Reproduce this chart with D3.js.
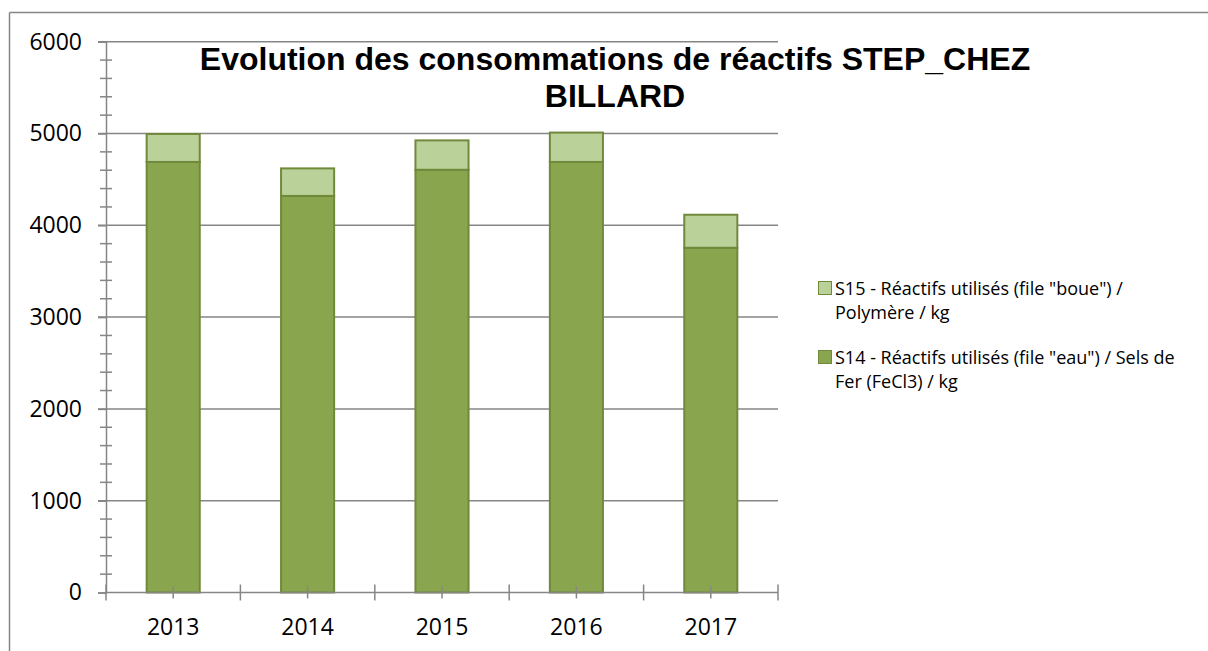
<!DOCTYPE html>
<html>
<head>
<meta charset="utf-8">
<script src="https://cdn.jsdelivr.net/npm/d3@7"></script>
<style>
  body { margin: 0; background: #fff; }
  text { fill: #000; }
</style>
</head>
<body>
<div id="container"></div>
<script>
const years = ["2013", "2014", "2015", "2016", "2017"];
const s14Values = [4690, 4320, 4605, 4690, 3755];
const s15Values = [305, 300, 320, 320, 360];
const yTicks = [0, 1000, 2000, 3000, 4000, 5000, 6000];
const titleLines = ["Evolution des consommations de réactifs STEP_CHEZ", "BILLARD"];
const legendLabels = [
  ["S15 - Réactifs utilisés (file \"boue\") /", "Polymère / kg"],
  ["S14 - Réactifs utilisés (file \"eau\") / Sels de", "Fer (FeCl3) / kg"]
];

const width = 1208,
  height = 651;
const plot = { left: 106, right: 778, top: 41.7, bottom: 592.5 };
const gray = "#868686";
const colors = { s14: "#89a54e", s15: "#bbd19a", stroke: "#71893a" };
const labelFont = "'Open Sans', sans-serif";

const svg = d3
  .select("#container")
  .append("svg")
  .attr("width", width)
  .attr("height", height);

// outer frame (top + left visible)
svg.append("line")
  .attr("x1", 9.5).attr("x2", width).attr("y1", 12.5).attr("y2", 12.5)
  .attr("stroke", gray).attr("stroke-width", 1.5);
svg.append("line")
  .attr("x1", 9.5).attr("x2", 9.5).attr("y1", 12.5).attr("y2", height)
  .attr("stroke", gray).attr("stroke-width", 1.5);

const x = d3
  .scaleBand()
  .domain(years)
  .range([plot.left, plot.right])
  .paddingInner(0.605)
  .paddingOuter(0.3025);

const y = d3
  .scaleLinear()
  .domain([0, 6000])
  .range([plot.bottom, plot.top]);

// gridlines
svg.append("g")
  .selectAll("line")
  .data(yTicks.filter((d) => d > 0))
  .enter()
  .append("line")
  .attr("x1", plot.left - 8)
  .attr("x2", plot.right)
  .attr("y1", (d) => y(d))
  .attr("y2", (d) => y(d))
  .attr("stroke", gray)
  .attr("stroke-width", 1.5);

// minor ticks on y axis
const minor = d3.range(200, 6000, 200).filter((d) => d % 1000 !== 0);
svg.append("g")
  .selectAll("line")
  .data(minor)
  .enter()
  .append("line")
  .attr("x1", plot.left - 6)
  .attr("x2", plot.left + 6)
  .attr("y1", (d) => y(d))
  .attr("y2", (d) => y(d))
  .attr("stroke", gray)
  .attr("stroke-width", 1.5);

// stacked bars
const stacked = years.map((yr, i) => ({ year: yr, s14: s14Values[i], s15: s15Values[i] }));
const series = d3.stack().keys(["s14", "s15"])(stacked);

svg.append("g")
  .selectAll("g")
  .data(series)
  .enter()
  .append("g")
  .attr("fill", (d) => colors[d.key])
  .attr("stroke", colors.stroke)
  .attr("stroke-width", 2)
  .selectAll("rect")
  .data((d) => d)
  .enter()
  .append("rect")
  .attr("x", (d) => x(d.data.year))
  .attr("width", x.bandwidth())
  .attr("y", (d) => y(d[1]))
  .attr("height", (d) => y(d[0]) - y(d[1]));

// y axis
const yAxis = svg.append("g")
  .attr("transform", `translate(${plot.left},0)`)
  .call(d3.axisLeft(y).tickValues(yTicks).tickFormat(d3.format("d")).tickSize(8).tickPadding(16));
yAxis.select(".domain").attr("stroke", gray).attr("stroke-width", 1.5);
yAxis.selectAll(".tick line").attr("stroke", gray).attr("stroke-width", 1.5);
yAxis.selectAll(".tick text")
  .attr("font-family", labelFont)
  .attr("font-size", 23)
  .attr("fill", "#000");

// x axis: boundaries and centre ticks
const step = x.step();
const bounds = d3.range(years.length + 1).map((i) => plot.left + i * step);
const xAxis = svg.append("g");
xAxis.append("line")
  .attr("x1", plot.left).attr("x2", plot.right)
  .attr("y1", plot.bottom).attr("y2", plot.bottom)
  .attr("stroke", gray).attr("stroke-width", 1.5);
xAxis.selectAll(".major")
  .data(bounds)
  .enter()
  .append("line")
  .attr("x1", (d) => d).attr("x2", (d) => d)
  .attr("y1", plot.bottom - 8).attr("y2", plot.bottom + 8)
  .attr("stroke", gray).attr("stroke-width", 1.5);
xAxis.selectAll(".minor")
  .data(years)
  .enter()
  .append("line")
  .attr("x1", (d) => x(d) + x.bandwidth() / 2)
  .attr("x2", (d) => x(d) + x.bandwidth() / 2)
  .attr("y1", plot.bottom - 6).attr("y2", plot.bottom + 6)
  .attr("stroke", gray).attr("stroke-width", 1.5);
xAxis.selectAll("text")
  .data(years)
  .enter()
  .append("text")
  .attr("x", (d) => x(d) + x.bandwidth() / 2)
  .attr("y", 635)
  .attr("text-anchor", "middle")
  .attr("font-family", labelFont)
  .attr("font-size", 23)
  .text((d) => d);

// title
svg.append("g")
  .selectAll("text")
  .data(titleLines)
  .enter()
  .append("text")
  .attr("x", 615)
  .attr("y", (d, i) => 70 + i * 37)
  .attr("text-anchor", "middle")
  .attr("font-family", "'Liberation Sans', Arial, sans-serif")
  .attr("font-weight", "bold")
  .attr("font-size", 32)
  .text((d) => d);

// legend
const legendColors = [colors.s15, colors.s14];
const legend = svg.append("g").attr("transform", "translate(818,0)");
const items = legend.selectAll("g")
  .data(legendLabels)
  .enter()
  .append("g")
  .attr("transform", (d, i) => `translate(0,${295 + i * 69})`);
items.append("rect")
  .attr("x", 0.5)
  .attr("y", -13.5)
  .attr("width", 13)
  .attr("height", 13)
  .attr("fill", (d, i) => legendColors[i])
  .attr("stroke", colors.stroke)
  .attr("stroke-width", 1);
items.selectAll("text")
  .data((d) => d)
  .enter()
  .append("text")
  .attr("x", 17)
  .attr("y", (d, i) => i * 24)
  .attr("font-family", labelFont)
  .attr("font-size", 18)
  .text((d) => d);
</script>
</body>
</html>
